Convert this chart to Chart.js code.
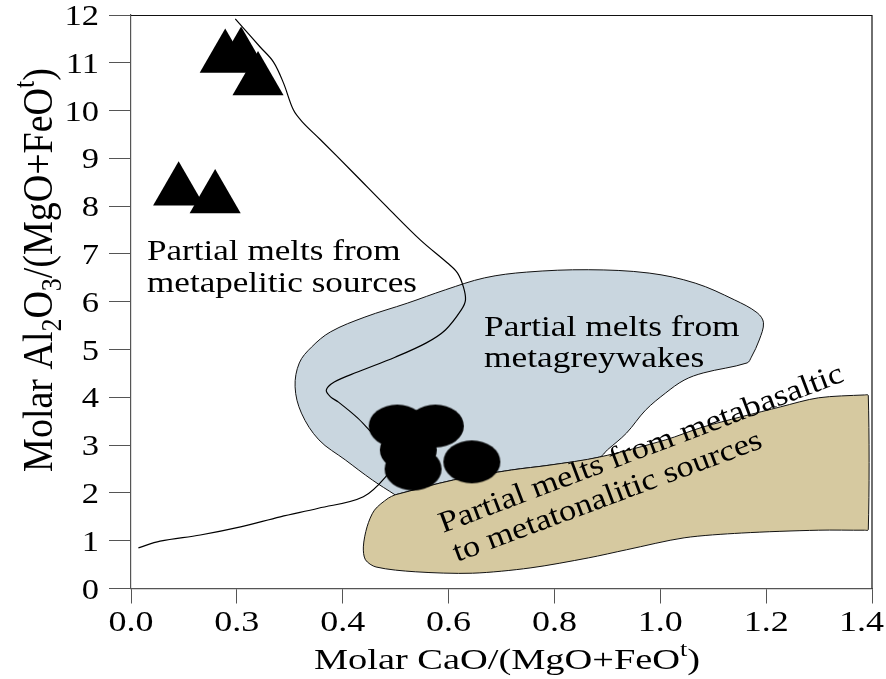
<!DOCTYPE html>
<html>
<head>
<meta charset="utf-8">
<script src="https://cdn.jsdelivr.net/npm/chart.js@4.4.1/dist/chart.umd.min.js"></script>
<style>
html, body { margin: 0; padding: 0; background: #fff; }
canvas { display: block; }
</style>
</head>
<body>
<canvas id="chart" width="886" height="679"></canvas>
<script>
// Samples: molar CaO/(MgO+FeOt) vs molar Al2O3/(MgO+FeOt)
const circleX = [0.503, 0.575, 0.524, 0.533, 0.644];
const circleY = [3.40, 3.40, 2.90, 2.50, 2.65];
const triangleX = [0.178, 0.208, 0.240, 0.090, 0.159];
const triangleY = [11.10, 11.14, 10.63, 8.32, 8.16];

// Field boundary: partial melts from metapelitic sources (open curve)
const pelitesX = [0.197, 0.212, 0.244, 0.269, 0.288, 0.307, 0.324, 0.358, 0.420, 0.484, 0.547, 0.598, 0.617, 0.628, 0.632, 0.624, 0.594, 0.558, 0.499, 0.428, 0.384, 0.369, 0.377, 0.392, 0.428, 0.456, 0.482, 0.497, 0.486, 0.439, 0.354, 0.282, 0.207, 0.131, 0.055, 0.014];
const pelitesY = [11.92, 11.73, 11.33, 11.02, 10.58, 10.01, 9.76, 9.39, 8.70, 7.98, 7.29, 6.81, 6.60, 6.31, 6.04, 5.83, 5.41, 5.14, 4.84, 4.53, 4.32, 4.15, 4.01, 3.90, 3.57, 3.25, 2.98, 2.65, 2.40, 1.92, 1.68, 1.50, 1.29, 1.12, 0.99, 0.85];

// Field: partial melts from metagreywakes (closed)
const greywackeX = [0.499, 0.456, 0.405, 0.355, 0.322, 0.310, 0.318, 0.341, 0.377, 0.442, 0.522, 0.594, 0.668, 0.747, 0.864, 0.979, 1.066, 1.140, 1.183, 1.195, 1.187, 1.172, 1.164, 1.081, 1.045, 1.010, 0.972, 0.936, 0.900, 0.885, 0.790, 0.719, 0.609, 0.499];
const greywackeY = [1.96, 2.27, 2.69, 3.11, 3.67, 4.22, 4.72, 5.05, 5.37, 5.68, 5.97, 6.25, 6.50, 6.62, 6.67, 6.60, 6.39, 6.04, 5.77, 5.56, 5.20, 4.84, 4.72, 4.51, 4.36, 4.09, 3.73, 3.25, 2.90, 2.75, 2.58, 2.48, 2.27, 1.96];

// Field: partial melts from metabasaltic to metatonalitic sources (closed)
const basaltX = [0.499, 0.609, 0.719, 0.790, 0.885, 1.010, 1.081, 1.227, 1.299, 1.386, 1.393, 1.393, 1.386, 1.299, 1.153, 1.045, 0.936, 0.864, 0.754, 0.645, 0.537, 0.463, 0.443, 0.439, 0.446, 0.460, 0.486, 0.499];
const basaltY = [1.96, 2.27, 2.48, 2.58, 2.75, 3.11, 3.38, 3.80, 3.99, 4.05, 4.04, 1.23, 1.22, 1.22, 1.16, 1.06, 0.81, 0.64, 0.43, 0.32, 0.35, 0.45, 0.60, 0.87, 1.29, 1.64, 1.89, 1.96];

const xTickLabels = ['0.0', '0.3', '0.4', '0.6', '0.8', '1.0', '1.2', '1.4'];
const yTickLabels = ['0', '1', '2', '3', '4', '5', '6', '7', '8', '9', '10', '11', '12'];

const SERIF = '"Liberation Serif", "Times New Roman", serif';

function toPoints(xs, ys) {
  return xs.map((x, i) => ({ x: x, y: ys[i] }));
}

// Filled ellipse used as the point marker for the circle samples
function ellipseMarker(rx, ry) {
  const c = document.createElement('canvas');
  c.width = Math.ceil(rx * 2) + 2;
  c.height = Math.ceil(ry * 2) + 2;
  const g = c.getContext('2d');
  g.fillStyle = '#000';
  g.beginPath();
  g.ellipse(c.width / 2, c.height / 2, rx, ry, 0, 0, Math.PI * 2);
  g.fill();
  return c;
}

// Text with subscript / superscript runs
function runsWidth(ctx, runs, size) {
  let w = 0;
  runs.forEach(r => {
    ctx.font = (r.s ? size * 0.68 : size) + 'px ' + SERIF;
    w += ctx.measureText(r.t).width;
  });
  return w;
}
function drawRuns(ctx, runs, o) {
  ctx.save();
  ctx.translate(o.x, o.y);
  if (o.angle) ctx.rotate(o.angle);
  ctx.scale(o.sx || 1, o.sy || 1);
  ctx.fillStyle = '#000';
  ctx.textBaseline = 'alphabetic';
  ctx.textAlign = 'left';
  const w = runsWidth(ctx, runs, o.size);
  let x = o.align === 'center' ? -w / 2 : (o.align === 'right' ? -w : 0);
  runs.forEach(r => {
    const fs = r.s ? o.size * 0.68 : o.size;
    ctx.font = fs + 'px ' + SERIF;
    const dy = r.s === 'sub' ? o.size * 0.22 : (r.s === 'sup' ? -o.size * 0.42 : 0);
    ctx.fillText(r.t, x, dy);
    x += ctx.measureText(r.t).width;
  });
  ctx.restore();
}

const xTitle = [{ t: 'Molar CaO/(MgO+FeO' }, { t: 't', s: 'sup' }, { t: ')' }];
const yTitle = [{ t: 'Molar Al' }, { t: '2', s: 'sub' }, { t: 'O' }, { t: '3', s: 'sub' }, { t: '/(MgO+FeO' }, { t: 't', s: 'sup' }, { t: ')' }];

const annotations = {
  id: 'annotations',
  afterDraw(chart) {
    const ctx = chart.ctx;
    const a = chart.chartArea;
    const xs = chart.scales.x, ys = chart.scales.y;

    // frame: top and right edges
    ctx.save();
    ctx.strokeStyle = '#111';
    ctx.lineWidth = 1.2;
    ctx.beginPath();
    ctx.moveTo(a.left, a.top + 0.5);
    ctx.lineTo(a.right, a.top + 0.5);
    ctx.lineTo(a.right, a.bottom);
    ctx.stroke();
    ctx.restore();

    // tick labels (kept inside the canvas at the right end)
    const tickSize = 30, tickSx = 1.2;
    xs.ticks.forEach((t, i) => {
      const label = xTickLabels[i];
      const half = runsWidth(ctx, [{ t: label }], tickSize) * tickSx / 2;
      const px = Math.min(xs.getPixelForValue(t.value), chart.width - half - 2);
      drawRuns(ctx, [{ t: label }], { x: px, y: 631, size: tickSize, sx: tickSx, align: 'center' });
    });
    ys.ticks.forEach((t, i) => {
      drawRuns(ctx, [{ t: yTickLabels[i] }], { x: 99, y: ys.getPixelForValue(t.value) + 10, size: 30, sx: 1.15, align: 'right' });
    });

    // axis titles
    drawRuns(ctx, xTitle, { x: 507, y: 669, size: 30, sx: 1.28, align: 'center' });
    drawRuns(ctx, yTitle, { x: 52, y: 270, size: 38, angle: -Math.PI / 2, sy: 1.1, align: 'center' });

    // field names
    drawRuns(ctx, [{ t: 'Partial melts from' }], { x: 147, y: 260, size: 30, sx: 1.17 });
    drawRuns(ctx, [{ t: 'metapelitic sources' }], { x: 147, y: 292, size: 30, sx: 1.17 });
    drawRuns(ctx, [{ t: 'Partial melts from' }], { x: 484, y: 336, size: 30, sx: 1.18 });
    drawRuns(ctx, [{ t: 'metagreywakes' }], { x: 484, y: 367, size: 30, sx: 1.18 });
    drawRuns(ctx, [{ t: 'Partial melts from metabasaltic' }], { x: 443, y: 533, size: 30, sx: 1.15, angle: -20.7 * Math.PI / 180 });
    drawRuns(ctx, [{ t: 'to metatonalitic sources' }], { x: 457, y: 562, size: 30, sx: 1.15, angle: -20.5 * Math.PI / 180 });
  }
};

new Chart(document.getElementById('chart'), {
  type: 'scatter',
  data: {
    datasets: [
      {
        label: 'circles',
        data: toPoints(circleX, circleY),
        pointStyle: ellipseMarker(28.5, 21.5),
        backgroundColor: '#000',
        order: 0
      },
      {
        label: 'triangles',
        data: toPoints(triangleX, triangleY),
        pointStyle: 'triangle',
        pointRadius: 29.5,
        backgroundColor: '#000',
        borderColor: '#000',
        borderWidth: 0,
        order: 1
      },
      {
        label: 'metapelitic',
        data: toPoints(pelitesX, pelitesY),
        showLine: true,
        pointRadius: 0,
        borderColor: '#000',
        borderWidth: 1.2,
        tension: 0.35,
        fill: false,
        order: 2
      },
      {
        label: 'metabasaltic',
        data: toPoints(basaltX, basaltY),
        showLine: true,
        pointRadius: 0,
        borderColor: '#111',
        borderWidth: 1,
        backgroundColor: '#d6c9a0',
        tension: 0.3,
        fill: 'shape',
        order: 3
      },
      {
        label: 'metagreywakes',
        data: toPoints(greywackeX, greywackeY),
        showLine: true,
        pointRadius: 0,
        borderColor: '#111',
        borderWidth: 1,
        backgroundColor: '#c9d6df',
        tension: 0.35,
        fill: 'shape',
        order: 4
      }
    ]
  },
  options: {
    responsive: false,
    animation: false,
    events: [],
    layout: { autoPadding: false, padding: { left: 109, top: 15, right: 14, bottom: 75.5 } },
    plugins: { legend: { display: false }, tooltip: { enabled: false } },
    scales: {
      x: {
        type: 'linear',
        min: 0,
        max: 1.4,
        ticks: { stepSize: 0.2, display: false },
        grid: { drawOnChartArea: false, drawTicks: true, tickLength: 15, color: '#555', lineWidth: 1 },
        border: { display: true, color: '#555', width: 1.2 }
      },
      y: {
        type: 'linear',
        min: 0,
        max: 12,
        ticks: { stepSize: 1, display: false },
        grid: { drawOnChartArea: false, drawTicks: true, tickLength: 22, color: '#555', lineWidth: 1 },
        border: { display: true, color: '#555', width: 1.2 }
      }
    }
  },
  plugins: [annotations]
});
</script>
</body>
</html>
